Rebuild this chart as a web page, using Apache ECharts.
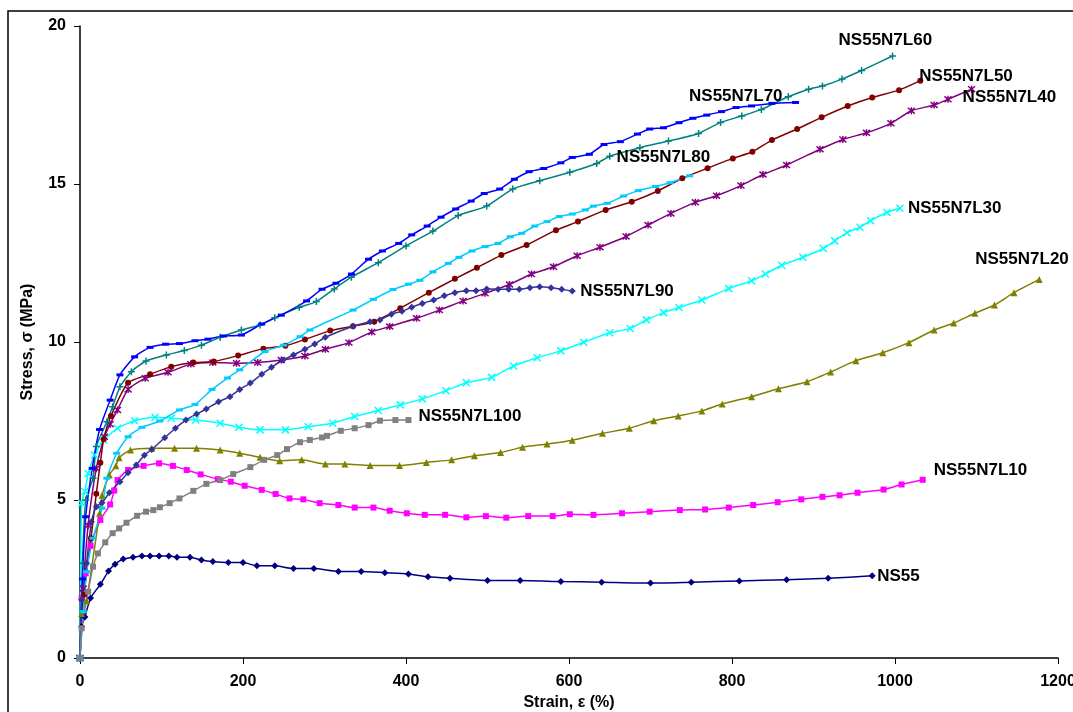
<!DOCTYPE html>
<html>
<head>
    <meta charset="UTF-8">
    <title>Stress-strain curves</title>
    <script src="https://cdn.jsdelivr.net/npm/echarts@6/dist/echarts.min.js"></script>
    <style>
        html, body { margin: 0; padding: 0; background: #fff; }
        #chart { width: 1073px; height: 712px; }
    </style>
</head>
<body>
<div id="chart"></div>
<script type="text/javascript">
    // axis ticks
    var xTicks = [0, 200, 400, 600, 800, 1000, 1200];
    var yTicks = [0, 5, 10, 15, 20];

    // curve names, in drawing order
    var names = ['NS55', 'NS55N7L10', 'NS55N7L20', 'NS55N7L30', 'NS55N7L40', 'NS55N7L50',
        'NS55N7L60', 'NS55N7L70', 'NS55N7L80', 'NS55N7L90', 'NS55N7L100'];

    // [strain %, stress MPa]
    var ns55 = [[0,0],[2,1.0],[6,1.3],[13,1.9],[25,2.33],[35,2.75],[43,2.97],[53,3.13],[65,3.19],[76,3.23],[86,3.23],[97,3.23],[109,3.23],[119,3.19],[135,3.19],[149,3.1],[163,3.05],[182,3.02],[200,3.02],[217,2.92],[239,2.92],[262,2.83],[287,2.83],[317,2.74],[345,2.74],[374,2.7],[403,2.66],[427,2.57],[454,2.52],[500,2.45],[540,2.45],[590,2.42],[640,2.4],[700,2.37],[750,2.4],[809,2.44],[867,2.48],[918,2.52],[972,2.6]];
    var l10 = [[0,0],[2,1.9],[7,2.68],[13,3.55],[25,4.37],[37,4.86],[42,5.3],[46,5.63],[59,5.95],[78,6.08],[97,6.16],[114,6.08],[131,5.95],[148,5.81],[169,5.66],[185,5.58],[202,5.45],[223,5.32],[240,5.19],[257,5.05],[274,5.02],[294,4.9],[317,4.84],[337,4.76],[360,4.76],[380,4.66],[401,4.58],[423,4.53],[448,4.53],[474,4.45],[498,4.49],[523,4.44],[550,4.49],[580,4.49],[601,4.55],[630,4.53],[665,4.58],[699,4.63],[736,4.68],[767,4.7],[796,4.76],[826,4.84],[856,4.93],[885,5.02],[911,5.1],[932,5.15],[954,5.23],[986,5.33],[1008,5.49],[1034,5.64]];
    var l20 = [[0,0],[2,1.41],[8,1.81],[24,4.58],[27,5.15],[36,5.79],[44,6.08],[48,6.34],[62,6.58],[88,6.64],[116,6.64],[143,6.64],[172,6.58],[196,6.48],[221,6.35],[245,6.24],[272,6.27],[301,6.14],[325,6.14],[356,6.09],[392,6.09],[425,6.19],[456,6.27],[484,6.4],[516,6.5],[543,6.67],[573,6.77],[604,6.89],[641,7.11],[674,7.27],[704,7.51],[734,7.66],[763,7.82],[788,8.04],[824,8.27],[857,8.52],[892,8.74],[921,9.05],[952,9.41],[985,9.66],[1017,9.98],[1048,10.38],[1072,10.6],[1098,10.91],[1122,11.17],[1146,11.56],[1177,11.98]];
    var l30 = [[0,0],[2,4.9],[6,5.27],[10,5.84],[18,6.42],[29,6.9],[46,7.27],[67,7.51],[92,7.62],[112,7.59],[142,7.53],[172,7.43],[195,7.3],[221,7.22],[252,7.22],[280,7.32],[310,7.43],[337,7.64],[366,7.83],[393,8.01],[420,8.2],[449,8.46],[474,8.71],[505,8.88],[532,9.24],[561,9.5],[590,9.72],[618,9.99],[650,10.29],[675,10.43],[695,10.7],[716,10.93],[735,11.09],[763,11.33],[796,11.69],[824,11.94],[841,12.15],[861,12.43],[887,12.68],[912,12.96],[926,13.2],[941,13.46],[957,13.63],[970,13.84],[990,14.1],[1006,14.23]];
    var l40 = [[0,0],[4,2.2],[10,4.2],[20,6.0],[30,7.0],[37,7.4],[46,7.85],[59,8.5],[80,8.85],[108,9.04],[136,9.3],[163,9.35],[192,9.33],[218,9.35],[247,9.43],[276,9.56],[301,9.77],[330,9.98],[358,10.32],[380,10.49],[413,10.75],[441,11.01],[470,11.3],[497,11.54],[527,11.82],[554,12.15],[581,12.38],[610,12.73],[638,13.0],[670,13.34],[697,13.7],[725,14.07],[755,14.42],[781,14.63],[811,14.95],[838,15.3],[867,15.6],[908,16.1],[936,16.41],[965,16.62],[995,16.92],[1020,17.32],[1048,17.5],[1065,17.68],[1094,18.0]];
    var l50 = [[0,0],[5,2.0],[13.5,3.79],[20,5.2],[25,6.18],[29,6.92],[38,7.66],[59,8.71],[86,8.98],[112,9.22],[139,9.35],[164,9.38],[194,9.57],[225,9.79],[252,9.88],[276,10.08],[307,10.36],[335,10.5],[361,10.64],[393,11.07],[428,11.56],[460,12.0],[487,12.35],[517,12.75],[548,13.07],[584,13.54],[611,13.81],[645,14.18],[677,14.44],[709,14.78],[739,15.18],[770,15.5],[801,15.81],[825,16.02],[849,16.39],[880,16.74],[910,17.11],[942,17.47],[972,17.74],[1005,17.97],[1031,18.27]];
    var l60 = [[0,0],[3,3.0],[7,5.0],[16,5.69],[20,6.69],[33,7.48],[40,7.95],[49,8.58],[63,9.06],[81,9.4],[106,9.59],[128,9.73],[149,9.9],[172,10.15],[198,10.38],[221,10.54],[239,10.77],[269,11.1],[290,11.28],[312,11.68],[333,12.05],[366,12.51],[400,13.04],[433,13.51],[464,14.0],[499,14.3],[531,14.84],[564,15.1],[601,15.37],[634,15.65],[650,15.88],[687,16.15],[722,16.36],[759,16.6],[786,16.95],[812,17.15],[836,17.36],[869,17.76],[894,18.0],[911,18.1],[935,18.32],[959,18.59],[997,19.05]];
    var l70 = [[0,0],[3,2.5],[7,4.47],[15,6.0],[24,7.23],[37,8.16],[49,8.96],[67,9.53],[86,9.83],[105,9.93],[122,9.95],[141,10.04],[157,10.09],[176,10.19],[198,10.22],[223,10.57],[247,10.85],[278,11.3],[297,11.67],[314,11.86],[333,12.15],[354,12.62],[371,12.88],[391,13.12],[407,13.39],[426,13.67],[443,13.95],[461,14.21],[480,14.46],[496,14.7],[515,14.84],[533,15.15],[551,15.39],[569,15.49],[590,15.67],[604,15.84],[625,15.94],[643,16.25],[663,16.34],[684,16.58],[699,16.74],[716,16.78],[735,16.94],[752,17.08],[769,17.18],[787,17.29],[805,17.42],[824,17.47],[849,17.55],[878,17.58]];
    var l80 = [[0,0],[4,1.47],[8,2.73],[16,3.79],[27,4.74],[33,5.69],[45,6.48],[59,7.0],[76,7.3],[98,7.5],[122,7.85],[141,8.02],[162,8.5],[181,8.86],[196,9.12],[227,9.7],[250,9.9],[270,10.17],[282,10.38],[335,11.01],[360,11.35],[384,11.66],[403,11.83],[417,11.95],[433,12.22],[452,12.49],[465,12.68],[481,12.88],[497,13.02],[513,13.12],[528,13.33],[542,13.44],[558,13.67],[573,13.81],[588,13.97],[604,14.05],[620,14.18],[630,14.3],[647,14.39],[667,14.62],[685,14.79],[706,14.92],[724,15.04],[748,15.26]];
    var l90 = [[0,0],[2,1.84],[8,3.0],[14,4.31],[20,4.79],[27,4.91],[36,5.23],[49,5.58],[59,5.86],[69,6.11],[79,6.42],[88,6.6],[104,6.97],[117,7.27],[130,7.53],[143,7.72],[155,7.88],[170,8.11],[184,8.27],[196,8.5],[209,8.7],[223,8.98],[235,9.2],[249,9.43],[262,9.59],[276,9.77],[288,9.94],[301,10.15],[335,10.5],[356,10.64],[368,10.7],[382,10.88],[395,10.97],[407,11.1],[420,11.22],[434,11.33],[447,11.46],[460,11.56],[474,11.62],[486,11.62],[499,11.68],[513,11.67],[526,11.67],[539,11.67],[552,11.72],[564,11.75],[578,11.72],[591,11.67],[604,11.61]];
    var l100 = [[0,0],[2,0.94],[10,2.1],[16,2.89],[22,3.31],[31,3.66],[40,3.95],[48,4.1],[57,4.28],[70,4.5],[81,4.63],[90,4.68],[98,4.77],[110,4.9],[122,5.05],[139,5.29],[155,5.51],[172,5.63],[188,5.82],[209,6.04],[226,6.27],[242,6.42],[254,6.61],[270,6.83],[282,6.9],[297,6.98],[303,7.03],[320,7.19],[337,7.27],[354,7.37],[368,7.51],[387,7.53],[403,7.53]];

    var curves = [ns55, l10, l20, l30, l40, l50, l60, l70, l80, l90, l100];

    // look of each curve (Excel style markers)
    var xMark = 'path://M0,0L10,10M10,0L0,10';
    var starMark = 'path://M0,0L10,10M10,0L0,10M5,-1L5,11';
    var plusMark = 'path://M5,0L5,10M0,5L10,5';
    var styles = [
        {color: '#000080', symbol: 'diamond', size: 7},
        {color: '#FF00FF', symbol: 'rect', size: 6},
        {color: '#808000', symbol: 'triangle', size: 7},
        {color: '#00FFFF', symbol: xMark, size: 7, stroke: true},
        {color: '#800080', symbol: starMark, size: 7, stroke: true},
        {color: '#800000', symbol: 'circle', size: 6},
        {color: '#008080', symbol: plusMark, size: 7, stroke: true},
        {color: '#0000FF', symbol: 'rect', size: [7, 3]},
        {color: '#00CCFF', symbol: 'rect', size: [7, 3]},
        {color: '#333399', symbol: 'diamond', size: 7},
        {color: '#808080', symbol: 'rect', size: 6}
    ];

    // where each name sits relative to the curve end (px)
    var labelPos = [
        {dx: 5, dy: 0, align: 'left'},
        {dx: 11, dy: -9, align: 'left'},
        {dx: -64, dy: -20, align: 'left'},
        {dx: 8, dy: 0, align: 'left'},
        {dx: -9, dy: 8, align: 'left'},
        {dx: -1, dy: -4, align: 'left'},
        {dx: -54, dy: -16, align: 'left'},
        {dx: -13, dy: -6, align: 'right'},
        {dx: -73, dy: -18, align: 'left'},
        {dx: 8, dy: 0, align: 'left'},
        {dx: 10, dy: -4, align: 'left'}
    ];

    var font = '"Liberation Sans", Arial, sans-serif';
    var myChart = echarts.init(document.getElementById('chart'), null, {renderer: 'canvas'});

    var series = [];
    for (var i = 0; i < curves.length; i++) {
        var st = styles[i];
        var itemStyle = {color: st.color};
        if (st.stroke) {
            itemStyle = {color: st.color, borderColor: st.color, borderWidth: 1.5};
        }
        series.push({
            name: names[i],
            type: 'line',
            data: curves[i],
            smooth: 0.2,
            symbol: st.symbol,
            symbolSize: st.size,
            showAllSymbol: true,
            lineStyle: {color: st.color, width: 1.5},
            itemStyle: itemStyle,
            animation: false
        });
    }

    var option = {
        animation: false,
        grid: {left: 80, top: 26, right: 15, bottom: 54, containLabel: false, outerBoundsMode: 'none'},
        xAxis: {
            type: 'value',
            min: xTicks[0],
            max: xTicks[xTicks.length - 1],
            interval: 200,
            name: 'Strain, ε (%)',
            nameLocation: 'middle',
            nameGap: 37,
            nameTextStyle: {fontFamily: font, fontWeight: 'bold', fontSize: 16, color: '#000'},
            axisLine: {show: true, lineStyle: {color: '#000', width: 1.5}},
            axisTick: {show: true, length: 6, lineStyle: {color: '#000'}},
            axisLabel: {
                fontFamily: font, fontWeight: 'bold', fontSize: 16, color: '#000', margin: 16,
                formatter: function (v) { return String(v); }
            },
            splitLine: {show: false}
        },
        yAxis: {
            type: 'value',
            min: yTicks[0],
            max: yTicks[yTicks.length - 1],
            interval: 5,
            name: 'Stress, σ (MPa)',
            nameLocation: 'middle',
            nameRotate: 90,
            nameGap: 44,
            nameTextStyle: {fontFamily: font, fontWeight: 'bold', fontSize: 16, color: '#000'},
            axisLine: {show: true, lineStyle: {color: '#000', width: 1.5}},
            axisTick: {show: true, length: 6, lineStyle: {color: '#000'}},
            axisLabel: {fontFamily: font, fontWeight: 'bold', fontSize: 16, color: '#000', margin: 14},
            splitLine: {show: false}
        },
        series: series
    };
    myChart.setOption(option);

    // frame round the figure and curve names at the curve ends
    var graphics = [{
        type: 'rect',
        shape: {x: 8, y: 11, width: 1100, height: 800},
        style: {fill: null, stroke: '#000', lineWidth: 1.5},
        silent: true,
        z: -1
    }];
    for (var k = 0; k < curves.length; k++) {
        var last = curves[k][curves[k].length - 1];
        var p = myChart.convertToPixel({gridIndex: 0}, last);
        graphics.push({
            type: 'text',
            x: p[0] + labelPos[k].dx,
            y: p[1] + labelPos[k].dy,
            style: {
                text: names[k],
                fill: '#000',
                font: 'bold 17px ' + font,
                textAlign: labelPos[k].align,
                textVerticalAlign: 'middle'
            },
            z: 100
        });
    }
    myChart.setOption({graphic: graphics});
</script>
</body>
</html>
